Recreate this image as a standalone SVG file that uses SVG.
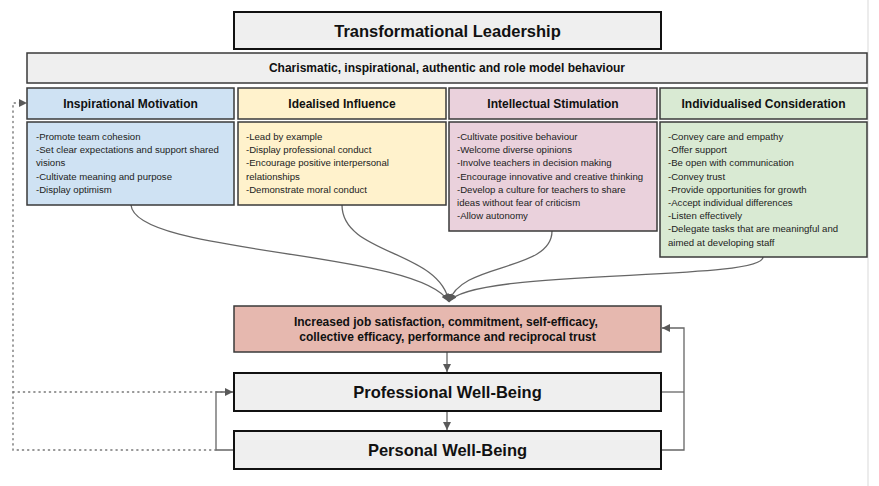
<svg xmlns="http://www.w3.org/2000/svg" width="879" height="486" viewBox="0 0 879 486">
<defs>
<style>
.box{stroke:#3a3a3a;stroke-width:1.5}
.big{font-family:"Liberation Sans",Arial,sans-serif;font-weight:bold;font-size:16.5px;fill:#111;text-anchor:middle}
.hd{font-family:"Liberation Sans",Arial,sans-serif;font-weight:bold;font-size:12px;fill:#111;text-anchor:middle}
.it{font-family:"Liberation Sans",Arial,sans-serif;font-size:9.6px;fill:#222}
.ln{fill:none;stroke:#666;stroke-width:1.3}
.dot{fill:none;stroke:#777;stroke-width:1.4;stroke-dasharray:1.2 4;stroke-linecap:round}
</style>
<marker id="ah" viewBox="0 0 8 8" refX="8" refY="4" markerWidth="8" markerHeight="8" markerUnits="userSpaceOnUse" orient="auto">
<path d="M0,0 L8,4 L0,8 z" fill="#595959"/>
</marker>
</defs>
<rect x="0" y="0" width="879" height="486" fill="#ffffff"/>
<line x1="868" y1="0" x2="868" y2="486" stroke="#d9d9d9" stroke-width="1"/>

<g id="connectors">
<path class="ln" d="M131,205 C135,255 420,250 449,302" marker-end="url(#ah)"/>
<path class="ln" d="M342,205 C342,255 440,250 449,302" marker-end="url(#ah)"/>
<path class="ln" d="M552,231 C552,272 460,262 449,302" marker-end="url(#ah)"/>
<path class="ln" d="M763,257 C763,282 470,268 449,302" marker-end="url(#ah)"/>
<line class="ln" x1="447" y1="352" x2="447" y2="372" marker-end="url(#ah)"/>
<line class="ln" x1="447" y1="411" x2="447" y2="430" marker-end="url(#ah)"/>
<polyline class="ln" points="661,392 684,392"/>
<polyline class="ln" points="661,450 684,450 684,328 662,328" marker-end="url(#ah)"/>
<polyline class="ln" points="234,450 216,450 216,392 233,392" marker-end="url(#ah)"/>
<polyline class="dot" points="216,450 13,450 13,103 20,103"/>
<path d="M19,99 L27,103 L19,107 z" fill="#595959"/>
<polyline class="dot" points="13,392 222,392"/>
</g>

<g id="title">
<rect x="234" y="12" width="427" height="37" fill="#efefef" stroke="#111" stroke-width="2"/>
<text class="big" x="447.5" y="36.5">Transformational Leadership</text>
</g>
<g id="charismatic">
<rect class="box" x="27" y="53" width="840" height="30" fill="#efefef"/>
<text class="hd" x="447" y="72">Charismatic, inspirational, authentic and role model behaviour</text>
</g>

<g id="inspirational-motivation">
<rect class="box" x="27" y="88" width="207" height="31" fill="#cfe2f3"/>
<text class="hd" x="130.5" y="107.5">Inspirational Motivation</text>
<rect class="box" x="27" y="122" width="207" height="83" fill="#cfe2f3"/>
<text class="it" x="36" y="140">
<tspan x="36" y="140">-Promote team cohesion</tspan>
<tspan x="36" y="153.2">-Set clear expectations and support shared</tspan>
<tspan x="36" y="166.4">visions</tspan>
<tspan x="36" y="179.6">-Cultivate meaning and purpose</tspan>
<tspan x="36" y="192.8">-Display optimism</tspan>
</text>
</g>

<g id="idealised-influence">
<rect class="box" x="238" y="88" width="208" height="31" fill="#fff2cc"/>
<text class="hd" x="342" y="107.5">Idealised Influence</text>
<rect class="box" x="238" y="122" width="208" height="83" fill="#fff2cc"/>
<text class="it">
<tspan x="246" y="140">-Lead by example</tspan>
<tspan x="246" y="153.2">-Display professional conduct</tspan>
<tspan x="246" y="166.4">-Encourage positive interpersonal</tspan>
<tspan x="246" y="179.6">relationships</tspan>
<tspan x="246" y="192.8">-Demonstrate moral conduct</tspan>
</text>
</g>

<g id="intellectual-stimulation">
<rect class="box" x="449" y="88" width="208" height="31" fill="#ead1dc"/>
<text class="hd" x="553" y="107.5">Intellectual Stimulation</text>
<rect class="box" x="449" y="122" width="208" height="109" fill="#ead1dc"/>
<text class="it">
<tspan x="457" y="140">-Cultivate positive behaviour</tspan>
<tspan x="457" y="153.2">-Welcome diverse opinions</tspan>
<tspan x="457" y="166.4">-Involve teachers in decision making</tspan>
<tspan x="457" y="179.6">-Encourage innovative and creative thinking</tspan>
<tspan x="457" y="192.8">-Develop a culture for teachers to share</tspan>
<tspan x="457" y="206">ideas without fear of criticism</tspan>
<tspan x="457" y="219.2">-Allow autonomy</tspan>
</text>
</g>

<g id="individualised-consideration">
<rect class="box" x="660" y="88" width="207" height="31" fill="#d9ead3"/>
<text class="hd" x="763.5" y="107.5">Individualised Consideration</text>
<rect class="box" x="660" y="122" width="207" height="135" fill="#d9ead3"/>
<text class="it">
<tspan x="668" y="140">-Convey care and empathy</tspan>
<tspan x="668" y="153.2">-Offer support</tspan>
<tspan x="668" y="166.4">-Be open with communication</tspan>
<tspan x="668" y="179.6">-Convey trust</tspan>
<tspan x="668" y="192.8">-Provide opportunities for growth</tspan>
<tspan x="668" y="206">-Accept individual differences</tspan>
<tspan x="668" y="219.2">-Listen effectively</tspan>
<tspan x="668" y="232.4">-Delegate tasks that are meaningful and</tspan>
<tspan x="668" y="245.6">aimed at developing staff</tspan>
</text>
</g>

<g id="outcomes">
<rect class="box" x="234" y="306" width="427" height="46" fill="#e6b8af"/>
<text class="hd">
<tspan x="447.5" y="326">Increased job satisfaction, commitment, self-efficacy,</tspan>
<tspan x="447.5" y="341">collective efficacy, performance and reciprocal trust</tspan>
</text>
</g>

<g id="professional-well-being">
<rect x="234" y="373" width="427" height="38" fill="#efefef" stroke="#111" stroke-width="2"/>
<text class="big" x="447.5" y="398">Professional Well-Being</text>
</g>

<g id="personal-well-being">
<rect x="234" y="431" width="427" height="38" fill="#efefef" stroke="#111" stroke-width="2"/>
<text class="big" x="447.5" y="456">Personal Well-Being</text>
</g>
</svg>
